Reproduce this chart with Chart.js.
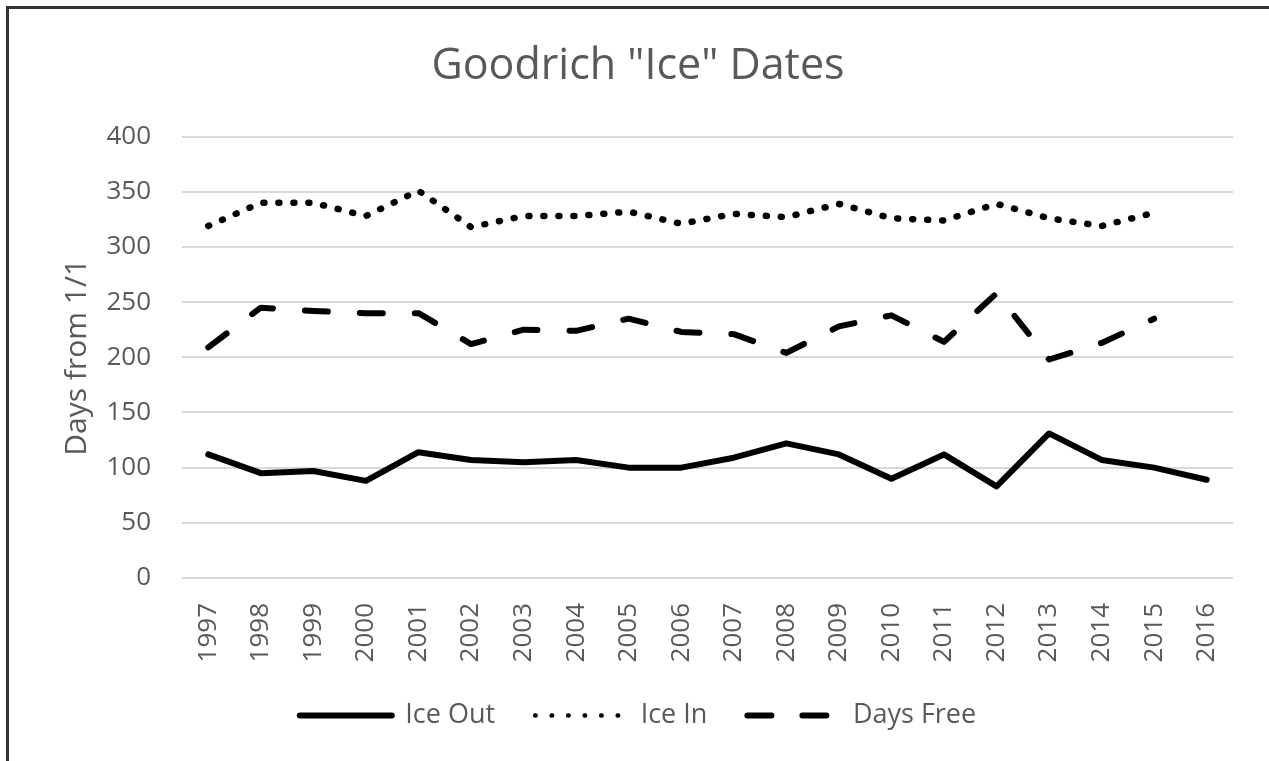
<!DOCTYPE html>
<html>
<head>
<meta charset="utf-8">
<script src="https://cdn.jsdelivr.net/npm/chart.js@4.4.1/dist/chart.umd.min.js"></script>
<style>
  html, body { margin: 0; padding: 0; background: #fff; overflow: hidden; }
  #wrap { position: relative; width: 1269px; height: 761px; overflow: hidden; }
  #frame {
    position: absolute; left: 6px; top: 6px; width: 1300px; height: 800px;
    border-left: 3px solid #333; border-top: 3px solid #333; pointer-events: none;
  }
</style>
</head>
<body>
<div id="wrap">
  <canvas id="chart" width="1269" height="761"></canvas>
  <div id="frame"></div>
</div>
<script>
// data (days from Jan 1)
const years = ["1997", "1998", "1999", "2000", "2001", "2002", "2003", "2004", "2005", "2006",
               "2007", "2008", "2009", "2010", "2011", "2012", "2013", "2014", "2015", "2016"];
const iceOut = [112, 95, 97, 88, 114, 107, 105, 107, 100, 100, 109, 122, 112, 90, 112, 83, 131, 107, 100, 89];
const iceIn = [319, 340, 340, 328, 351, 318, 328, 328, 332, 321, 330, 327, 339, 326, 324, 339, 326, 319, 331, null];
const daysFree = [209, 245, 242, 240, 240, 212, 225, 224, 235, 223, 221, 204, 228, 238, 214, 258, 198, 213, 235, null];
const yTicks = [0, 50, 100, 150, 200, 250, 300, 350, 400];

const GREY = "#595959";
Chart.defaults.font.family = "'Open Sans', sans-serif";
Chart.defaults.color = GREY;

new Chart(document.getElementById("chart"), {
    type: "line",
    data: {
        labels: years,
        datasets: [
            {
                label: "Ice Out",
                data: iceOut,
                borderColor: "#000",
                backgroundColor: "#000",
                borderWidth: 6,
                borderCapStyle: "round",
                borderJoinStyle: "round",
            },
            {
                label: "Ice In",
                data: iceIn,
                borderColor: "#000",
                backgroundColor: "#000",
                borderWidth: 6.5,
                borderDash: [1, 14],
                borderCapStyle: "round",
                borderJoinStyle: "round",
            },
            {
                label: "Days Free",
                data: daysFree,
                borderColor: "#000",
                backgroundColor: "#000",
                borderWidth: 6,
                borderDash: [23, 32],
                borderCapStyle: "round",
                borderJoinStyle: "round",
            },
        ],
    },
    options: {
        responsive: false,
        animation: false,
        events: [],
        elements: {
            point: { radius: 0 },
            line: { tension: 0, fill: false },
        },
        layout: { padding: { left: 7, top: 0, right: 0, bottom: 22 } },
        plugins: {
            tooltip: { enabled: false },
            title: {
                display: true,
                text: 'Goodrich "Ice" Dates',
                color: GREY,
                font: { size: 43, weight: "normal" },
                padding: { top: 41, bottom: 44 },
            },
            legend: {
                position: "bottom",
                labels: {
                    usePointStyle: true,
                    pointStyle: "line",
                    pointStyleWidth: 92,
                    padding: 40,
                    color: GREY,
                    font: { size: 27 },
                    generateLabels(chart) {
                        // legend samples: the dotted one is finer than the plotted line
                        return chart.data.datasets.map((ds, i) => ({
                            text: ds.label,
                            fillStyle: ds.borderColor,
                            strokeStyle: ds.borderColor,
                            fontColor: GREY,
                            lineWidth: i === 1 ? 4.5 : ds.borderWidth,
                            lineCap: "round",
                            lineDash: i === 1 ? [0.5, 16] : i === 2 ? [24, 31] : [],
                            pointStyle: "line",
                            hidden: false,
                            datasetIndex: i,
                        }));
                    },
                },
            },
        },
        scales: {
            x: {
                offset: true,
                grid: { display: false },
                border: { display: false },
                ticks: {
                    autoSkip: false,
                    minRotation: 90,
                    maxRotation: 90,
                    padding: 17,
                    color: GREY,
                    font: { size: 26 },
                },
                afterFit(scale) { scale.height = 84; },
            },
            y: {
                min: 0,
                max: 400,
                afterBuildTicks(scale) { scale.ticks = yTicks.map((v) => ({ value: v })); },
                grid: { color: "#d9d9d9", lineWidth: 2, drawTicks: false },
                border: { display: false },
                ticks: { padding: 31, color: GREY, font: { size: 26 } },
                title: {
                    display: true,
                    text: "Days from 1/1",
                    color: GREY,
                    font: { size: 30 },
                    padding: { top: 52, bottom: 0 },
                },
                afterFit(scale) { scale.width = 175; },
            },
            // empty right-hand box so the plot stops where the reference's does
            yRight: {
                position: "right",
                grid: { display: false },
                border: { display: false },
                ticks: { display: false },
                afterFit(scale) { scale.width = 36; },
            },
        },
    },
});
</script>
</body>
</html>
